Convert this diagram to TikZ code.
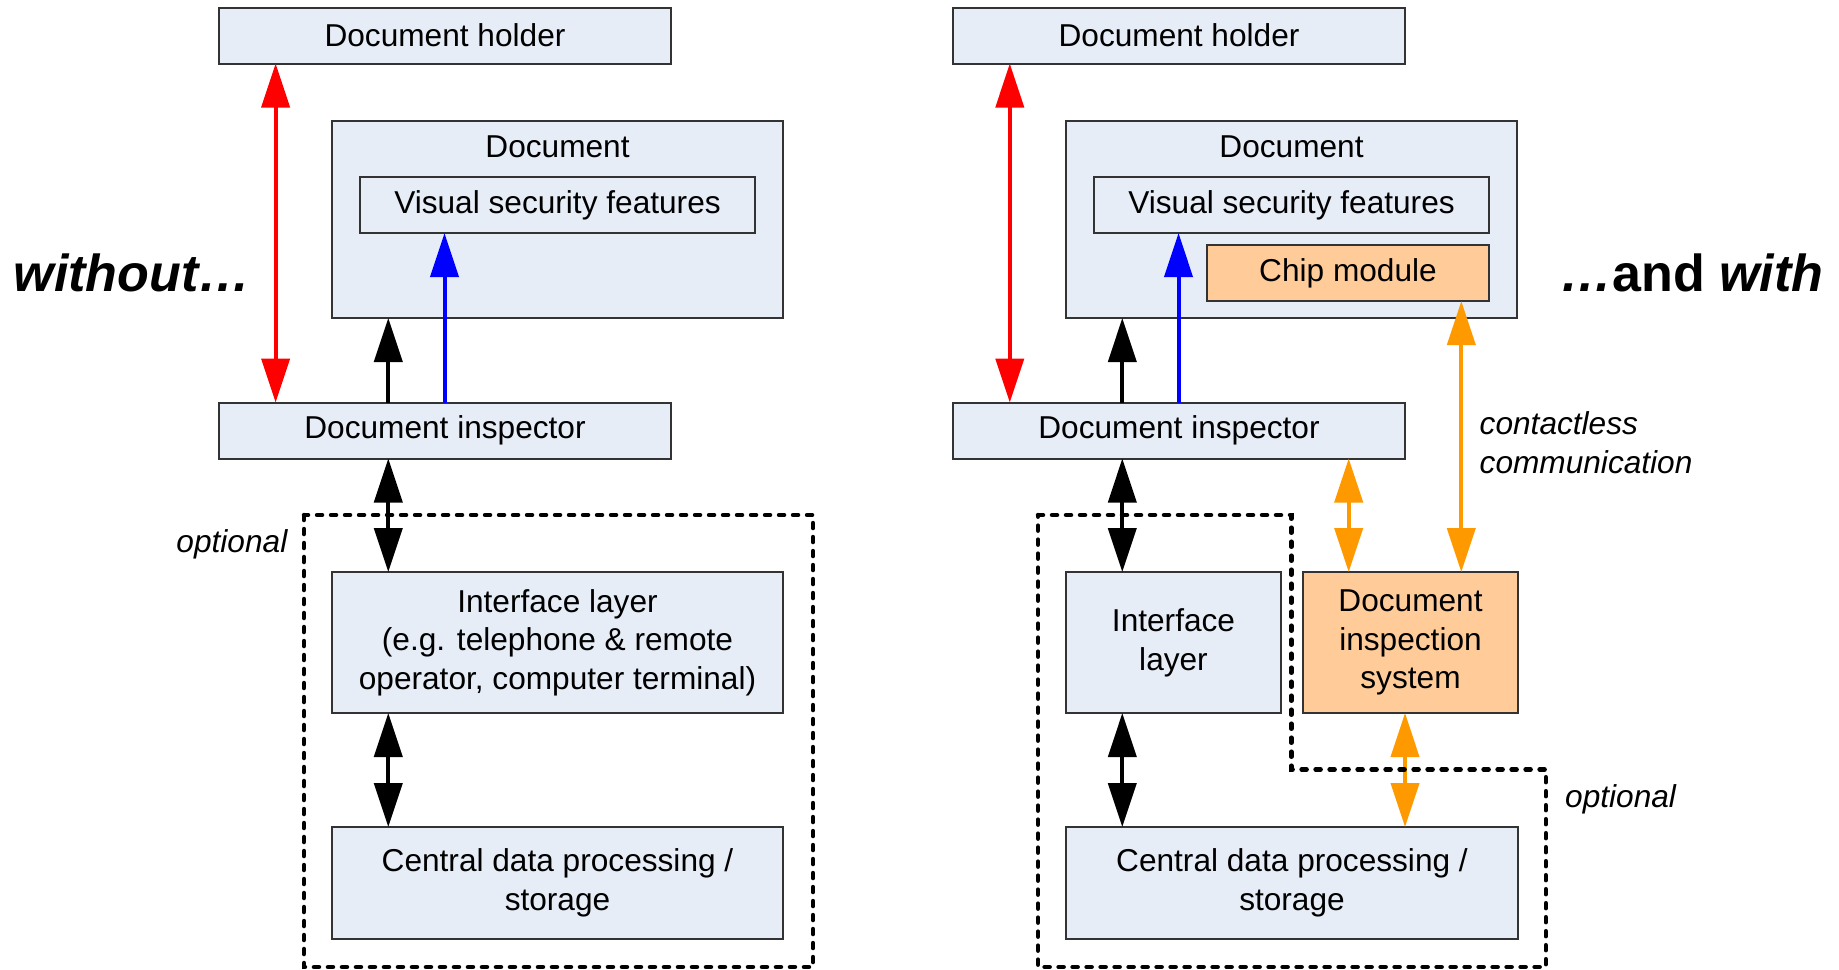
\documentclass[tikz,border=0pt]{standalone}
\usepackage{fontspec}
\setmainfont{Liberation Sans}
\usetikzlibrary{arrows.meta,positioning}
\definecolor{boxblue}{HTML}{E6EDF7}
\definecolor{chipfill}{HTML}{FFCC99}
\definecolor{rfid}{HTML}{FF9900}

\begin{document}
\begin{tikzpicture}[>={Triangle[length=0.44cm,width=0.28cm]}, % big filled heads
  every node/.style={font=\fontsize{9}{11}\selectfont},
  box/.style={draw=black!80,line width=0.02cm,fill=boxblue,inner sep=0,outer sep=0,align=center},
  chipbox/.style={box,fill=chipfill},
  bar/.style={box,minimum width=4.52cm,minimum height=0.56cm},
  link/.style={line width=0.04cm},
  optbox/.style={line width=0.045cm,dash pattern=on 0.05cm off 0.09cm,line cap=round},
  heading/.style={inner sep=0,font=\fontsize{14.8}{16}\selectfont\bfseries},
  note/.style={inner sep=0,font=\fontsize{9}{11}\selectfont\itshape}]

  \useasboundingbox (0,0) rectangle (18.39,-9.69);

  % ---- without ----
  \node[bar](holderL) at (4.45,-0.355) {Document holder};
  \node[box,minimum width=4.51cm,minimum height=1.97cm](docL) at (5.575,-2.195) {};
  \node[inner sep=0,below=0.14cm of docL.north](docLtxt) {Document};
  \node[box,minimum width=3.95cm,minimum height=0.56cm](vsfL) at (5.575,-2.05) {Visual security features};
  \node[bar](inspL) at (4.45,-4.305) {Document inspector};
  \node[box,minimum width=4.51cm,minimum height=1.41cm](ifaceL) at (5.575,-6.425)
    {Interface layer\\(e.g. telephone \& remote\\operator, computer terminal)};
  \node[box,minimum width=4.51cm,minimum height=1.12cm](centralL) at (5.575,-8.83)
    {Central data processing /\\storage};

  \coordinate (redL) at (2.756,0);
  \coordinate (blackL) at (3.883,0);
  \coordinate (blueL) at (4.445,0);

  \draw[link,<->,red] (holderL.south -| redL) -- (inspL.north -| redL);
  \draw[link,->] (inspL.north -| blackL) -- (docL.south -| blackL);
  \draw[link,->,blue] (inspL.north -| blueL) -- (vsfL.south -| blueL);
  \draw[link,<->] (inspL.south -| blackL) -- (ifaceL.north -| blackL);
  \draw[link,<->] (ifaceL.south -| blackL) -- (centralL.north -| blackL);

  \draw[optbox] (3.04,-5.15) rectangle (8.13,-9.67);
  \node[note,anchor=base east](optL) at (2.88,-5.52) {optional};
  \node[heading,anchor=base west](without) at (0.13,-2.917) {\itshape without…};

  % ---- and with ----
  \node[bar](holderR) at (11.79,-0.355) {Document holder};
  \node[box,minimum width=4.51cm,minimum height=1.97cm](docR) at (12.915,-2.195) {};
  \node[inner sep=0,below=0.14cm of docR.north](docRtxt) {Document};
  \node[box,minimum width=3.95cm,minimum height=0.56cm](vsfR) at (12.915,-2.05) {Visual security features};
  \node[chipbox,minimum width=2.82cm,minimum height=0.56cm](chip) at (13.48,-2.73) {Chip module};
  \node[bar](inspR) at (11.79,-4.305) {Document inspector};
  \node[box,minimum width=2.15cm,minimum height=1.41cm](ifaceR) at (11.735,-6.425) {Interface\\layer};
  \node[chipbox,minimum width=2.15cm,minimum height=1.41cm](dis) at (14.105,-6.425)
    {Document\\inspection\\system};
  \node[box,minimum width=4.52cm,minimum height=1.12cm](centralR) at (12.92,-8.83)
    {Central data processing /\\storage};

  \coordinate (redR) at (10.098,0);
  \coordinate (blackR) at (11.223,0);
  \coordinate (blueR) at (11.785,0);
  \coordinate (orA) at (13.487,0);
  \coordinate (orB) at (14.613,0);
  \coordinate (orC) at (14.05,0);

  \draw[link,<->,red] (holderR.south -| redR) -- (inspR.north -| redR);
  \draw[link,->] (inspR.north -| blackR) -- (docR.south -| blackR);
  \draw[link,->,blue] (inspR.north -| blueR) -- (vsfR.south -| blueR);
  \draw[link,<->] (inspR.south -| blackR) -- (ifaceR.north -| blackR);
  \draw[link,<->] (ifaceR.south -| blackR) -- (centralR.north -| blackR);
  \draw[link,<->,rfid] (inspR.south -| orA) -- (dis.north -| orA);
  \draw[link,<->,rfid] (chip.south -| orB) -- (dis.north -| orB);
  \draw[link,<->,rfid] (dis.south -| orC) -- (centralR.north -| orC);

  \draw[optbox] (10.38,-5.15) -- (12.913,-5.15) -- (12.913,-7.694) -- (15.458,-7.694)
    -- (15.458,-9.67) -- (10.38,-9.67) -- cycle;
  \node[note,anchor=base west](optR) at (15.645,-8.07) {optional};
  \node[note,anchor=west,align=left](contactless) at (14.79,-4.43) {contactless\\communication};
  \node[heading,anchor=base east](andwith) at (18.24,-2.917) {\textit{…}and \textit{with}};

\end{tikzpicture}
\end{document}
